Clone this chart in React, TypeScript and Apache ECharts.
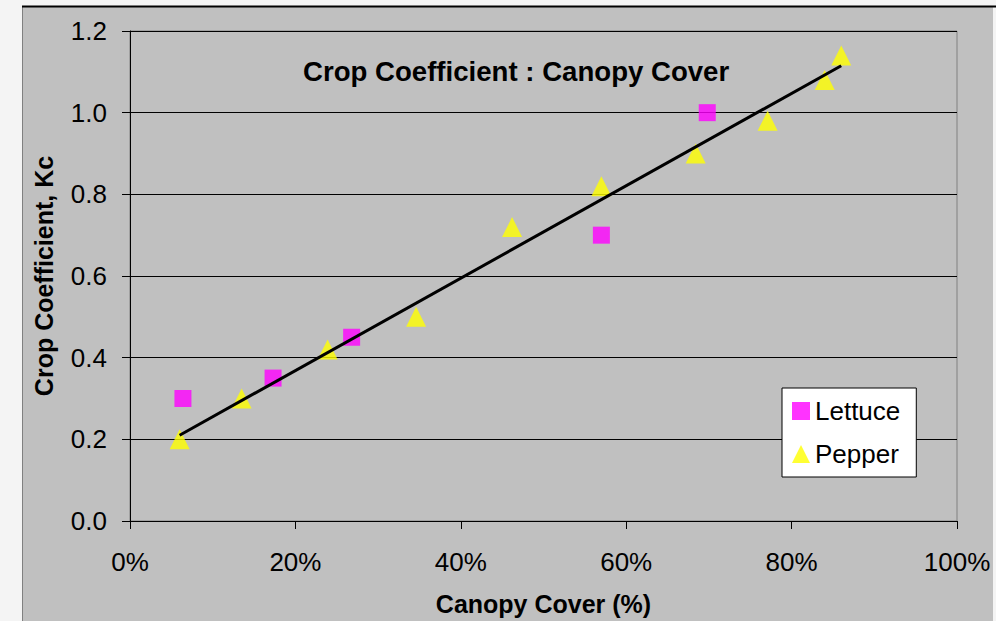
import React, { useEffect, useRef } from "react";
import * as echarts from "echarts";

const lettuceX = [6.4, 17.3, 26.8, 57.0, 69.8];
const lettuceY = [0.3, 0.35, 0.45, 0.7, 1.0];
const pepperX = [6.0, 13.5, 23.9, 34.6, 46.2, 57.0, 68.4, 77.1, 84.0, 86.0];
const pepperY = [0.2, 0.3, 0.42, 0.5, 0.72, 0.82, 0.9, 0.98, 1.08, 1.14];
const trendX = [6.0, 86.0];
const trendY = [0.21, 1.115];
const seriesNames = ["Lettuce", "Pepper"];
const titleText = "Crop Coefficient : Canopy Cover";
const xTitle = "Canopy Cover (%)";
const yTitle = "Crop Coefficient, Kc";

const FONT = "'Liberation Sans', Arial, sans-serif";

export default function App() {
  const ref = useRef<HTMLDivElement>(null);
  useEffect(() => {
    if (!ref.current) return;
    const chart = echarts.init(ref.current, null, { renderer: "svg" });
    const zip = (xs: number[], ys: number[]) => xs.map((x, i) => [x, ys[i]]);
    chart.setOption({
      animation: false,
      backgroundColor: "#f4f4f4",
      textStyle: { fontFamily: FONT },
      graphic: [
        { type: "rect", z: -100, silent: true, shape: { x: 22, y: 7, width: 971, height: 614 }, style: { fill: "#c0c0c0" } },
        { type: "line", z: -99, silent: true, shape: { x1: 22.5, y1: 7, x2: 22.5, y2: 621 }, style: { stroke: "#808080", lineWidth: 1 } },
        { type: "line", z: -99, silent: true, shape: { x1: 22, y1: 6.5, x2: 996, y2: 6.5 }, style: { stroke: "#000", lineWidth: 2 } },
      ],
      title: {
        text: titleText,
        left: 298,
        top: 52,
        textStyle: { fontFamily: FONT, fontSize: 27.6, fontWeight: "bold", color: "#000" },
      },
      grid: {
        left: 130,
        top: 31,
        right: 39,
        bottom: 99,
        show: true,
        backgroundColor: "#c0c0c0",
        borderColor: "#808080",
        borderWidth: 1,
      },
      legend: {
        data: [
          { name: seriesNames[0], icon: "rect" },
          { name: seriesNames[1], icon: "triangle" },
        ],
        orient: "vertical",
        left: 782,
        top: 388,
        padding: [10, 16, 10, 10],
        itemGap: 17,
        itemWidth: 18,
        itemHeight: 18,
        backgroundColor: "#fff",
        borderColor: "#000",
        borderWidth: 1,
        borderRadius: 0,
        textStyle: { fontFamily: FONT, fontSize: 26, color: "#000" },
      },
      xAxis: {
        type: "value",
        min: 0,
        max: 100,
        interval: 20,
        name: xTitle,
        nameLocation: "middle",
        nameGap: 70,
        nameTextStyle: { fontFamily: FONT, fontSize: 25, fontWeight: "bold", color: "#000" },
        axisLine: { show: true, onZero: false, lineStyle: { color: "#000", width: 1 } },
        axisTick: { show: true, length: 8, lineStyle: { color: "#000" } },
        axisLabel: { formatter: "{value}%", margin: 28, fontSize: 26, color: "#000", fontFamily: FONT },
        splitLine: { show: false },
      },
      yAxis: {
        type: "value",
        min: 0,
        max: 1.2,
        interval: 0.2,
        name: yTitle,
        nameLocation: "middle",
        nameGap: 74,
        nameTextStyle: { fontFamily: FONT, fontSize: 25, fontWeight: "bold", color: "#000" },
        axisLine: { show: true, onZero: false, lineStyle: { color: "#000", width: 1 } },
        axisTick: { show: true, length: 8, lineStyle: { color: "#000" } },
        axisLabel: { formatter: (v: number) => v.toFixed(1), margin: 23, fontSize: 26, color: "#000", fontFamily: FONT },
        splitLine: { show: true, lineStyle: { color: "#000", width: 1 } },
      },
      series: [
        {
          name: "trend",
          type: "line",
          data: zip(trendX, trendY),
          symbol: "none",
          lineStyle: { color: "#000", width: 3 },
          z: 3,
          silent: true,
        },
        {
          name: seriesNames[0],
          type: "scatter",
          symbol: "rect",
          symbolSize: 17,
          itemStyle: { color: "#ff00ff" },
          data: zip(lettuceX, lettuceY),
          z: 2,
        },
        {
          name: seriesNames[1],
          type: "scatter",
          symbol: "triangle",
          symbolSize: 20,
          itemStyle: { color: "#ffff00" },
          data: zip(pepperX, pepperY),
          z: 2,
        },
      ],
    });
    return () => chart.dispose();
  }, []);
  return <div ref={ref} style={{ position: "fixed", left: 0, top: 0, width: 996, height: 621 }} />;
}
